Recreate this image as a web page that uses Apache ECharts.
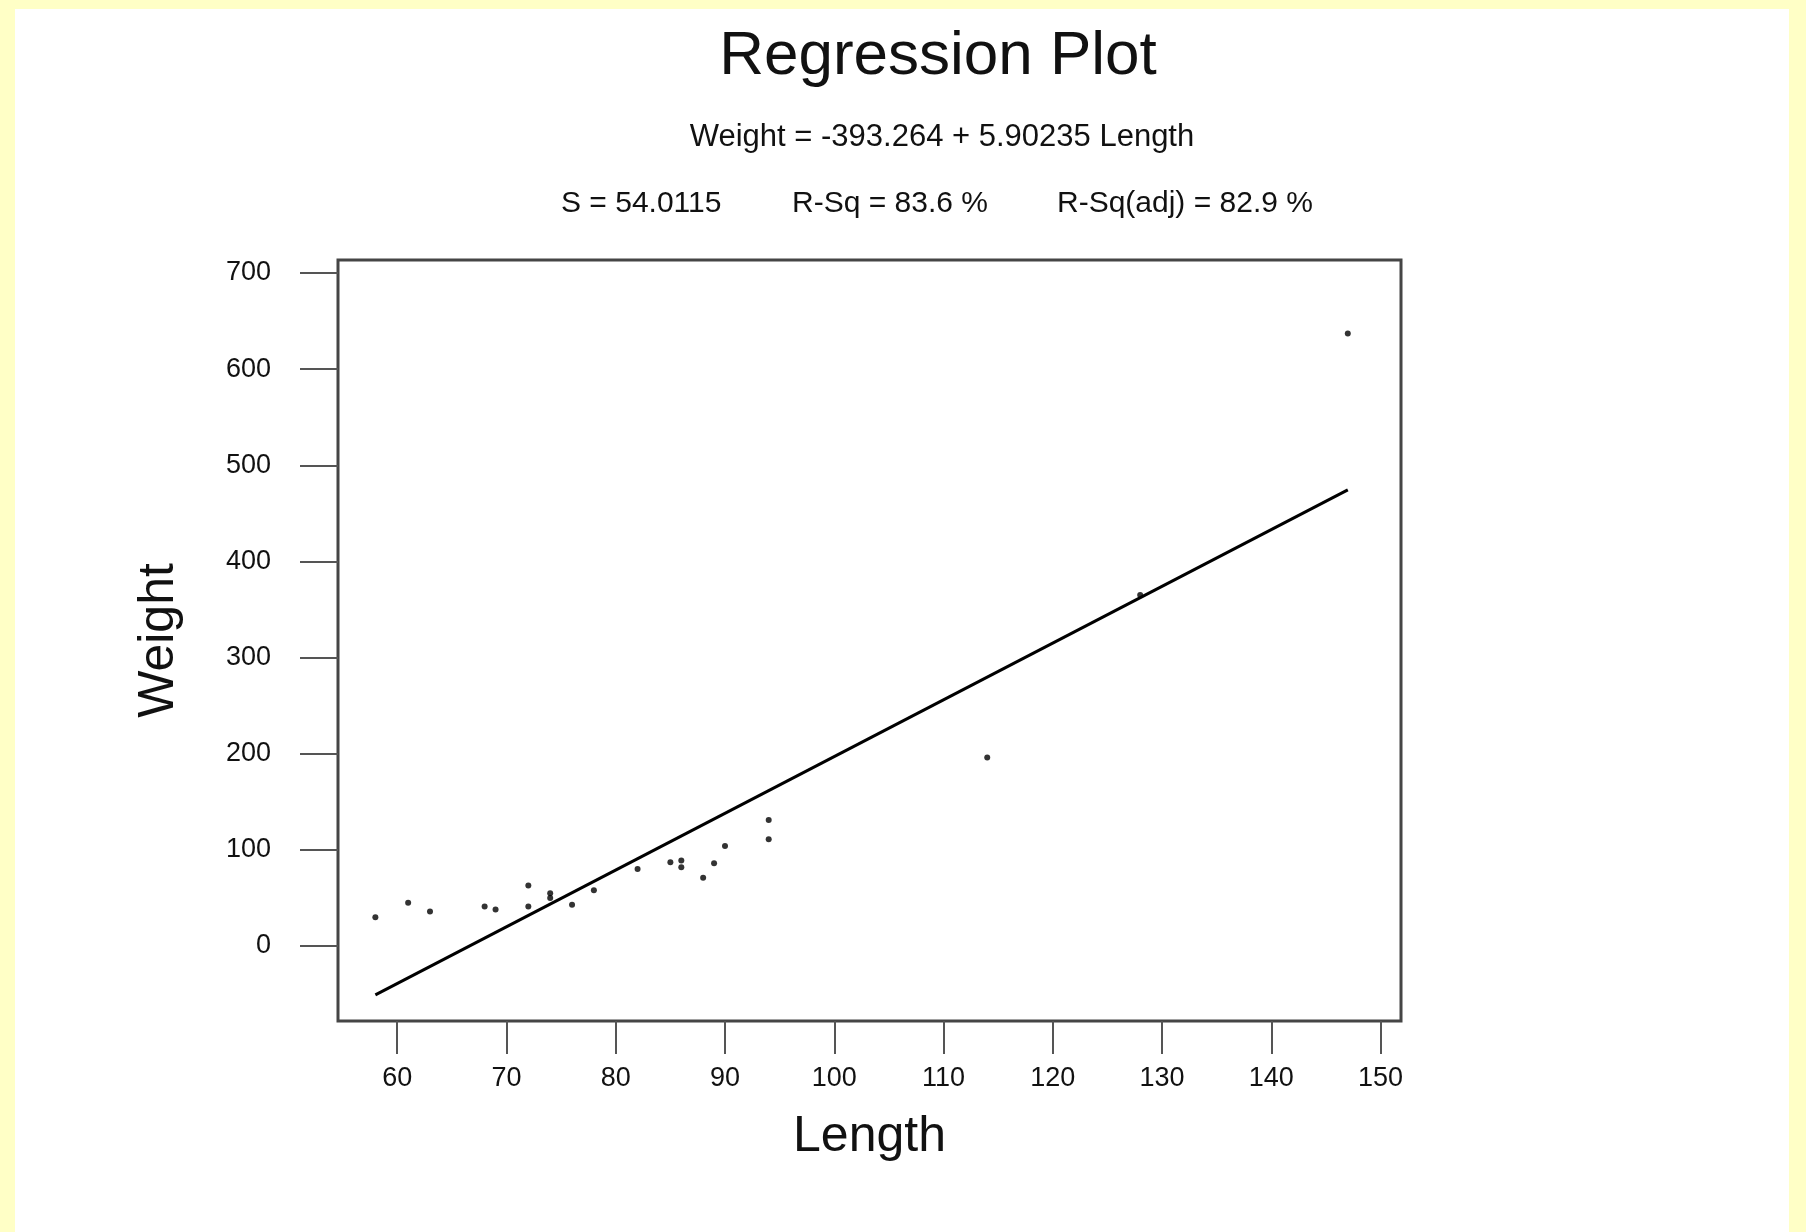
<!DOCTYPE html>
<html>
<head>
<meta charset="utf-8">
<script src="https://cdn.jsdelivr.net/npm/echarts@6/dist/echarts.min.js"></script>
<style>
  html, body { margin: 0; padding: 0; background: #FFFFC6; }
  #panel { position: absolute; left: 15px; top: 9px; width: 1774px; height: 1223px; background: #ffffff; }
  #chart { position: absolute; left: 0; top: 0; width: 1806px; height: 1232px; }
</style>
</head>
<body>
<div id="panel"></div>
<div id="chart"></div>
<script>
// Observed data (Length, Weight)
const lengthVals = [58, 61, 63, 68, 69, 72, 72, 74, 74, 76, 78, 82, 85, 86, 86, 88, 89, 90, 94, 94, 114, 128, 147];
const weightVals = [30, 45, 36, 41, 38, 63, 41, 55, 50, 43, 58, 80, 87, 89, 82, 71, 86, 104, 131, 111, 196, 365, 637];
// Fitted regression line endpoints, as drawn
const fitX = [58, 147];
const fitY = [-50.9, 474.4];
// Tick values
const xTicks = [60, 70, 80, 90, 100, 110, 120, 130, 140, 150];
const yTicks = [0, 100, 200, 300, 400, 500, 600, 700];
// Texts
const titleText = 'Regression Plot';
const equationText = 'Weight = -393.264 + 5.90235 Length';
const statTexts = ['S = 54.0115', 'R-Sq = 83.6 %', 'R-Sq(adj) = 82.9 %'];

const FONT = '"Liberation Sans", Arial, sans-serif';
const chart = echarts.init(document.getElementById('chart'), null, { renderer: 'canvas' });

const scatterData = lengthVals.map((x, i) => [x, weightVals[i]]);
const lineData = fitX.map((x, i) => [x, fitY[i]]);

chart.setOption({
  backgroundColor: 'transparent',
  animation: false,
  title: [
    { text: titleText, left: 933, top: 52, textAlign: 'center', textVerticalAlign: 'middle',
      textStyle: { fontFamily: FONT, fontSize: 62, fontWeight: 'normal', color: '#111' } },
    { text: equationText, left: 937, top: 132, textAlign: 'center', textVerticalAlign: 'middle',
      textStyle: { fontFamily: FONT, fontSize: 31, fontWeight: 'normal', color: '#111' } },
    { text: statTexts[0], left: 556, top: 199, textVerticalAlign: 'middle',
      textStyle: { fontFamily: FONT, fontSize: 30, fontWeight: 'normal', color: '#111' } },
    { text: statTexts[1], left: 787, top: 199, textVerticalAlign: 'middle',
      textStyle: { fontFamily: FONT, fontSize: 30, fontWeight: 'normal', color: '#111' } },
    { text: statTexts[2], left: 1052, top: 199, textVerticalAlign: 'middle',
      textStyle: { fontFamily: FONT, fontSize: 30, fontWeight: 'normal', color: '#111' } }
  ],
  grid: {
    left: 338, right: 405, top: 260, bottom: 211,
    show: true, borderColor: '#454545', borderWidth: 3, backgroundColor: '#ffffff'
  },
  xAxis: {
    type: 'value', min: 54.58, max: 151.87,
    name: 'Length', nameLocation: 'middle', nameGap: 91,
    nameTextStyle: { fontFamily: FONT, fontSize: 50, color: '#111' },
    axisLine: { show: false, onZero: false },
    axisTick: { show: true, customValues: xTicks, length: 33, lineStyle: { color: '#555', width: 2 } },
    axisLabel: { customValues: xTicks, margin: 44, fontFamily: FONT, fontSize: 27, color: '#111' },
    splitLine: { show: false }
  },
  yAxis: {
    type: 'value', min: -78, max: 713.5,
    name: 'Weight', nameLocation: 'middle', nameGap: 154, nameRotate: 90,
    nameTextStyle: { fontFamily: FONT, fontSize: 50, color: '#111' },
    axisLine: { show: false, onZero: false },
    axisTick: { show: true, customValues: yTicks, length: 38, lineStyle: { color: '#555', width: 2 } },
    axisLabel: { customValues: yTicks, margin: 67, fontFamily: FONT, fontSize: 27, color: '#111' },
    splitLine: { show: false }
  },
  series: [
    {
      type: 'line', data: lineData, showSymbol: false, symbol: 'none',
      lineStyle: { color: '#000', width: 3 }, z: 2
    },
    {
      type: 'scatter', data: scatterData, symbol: 'circle', symbolSize: 6,
      itemStyle: { color: '#000' }, z: 3
    }
  ]
});
</script>
</body>
</html>
